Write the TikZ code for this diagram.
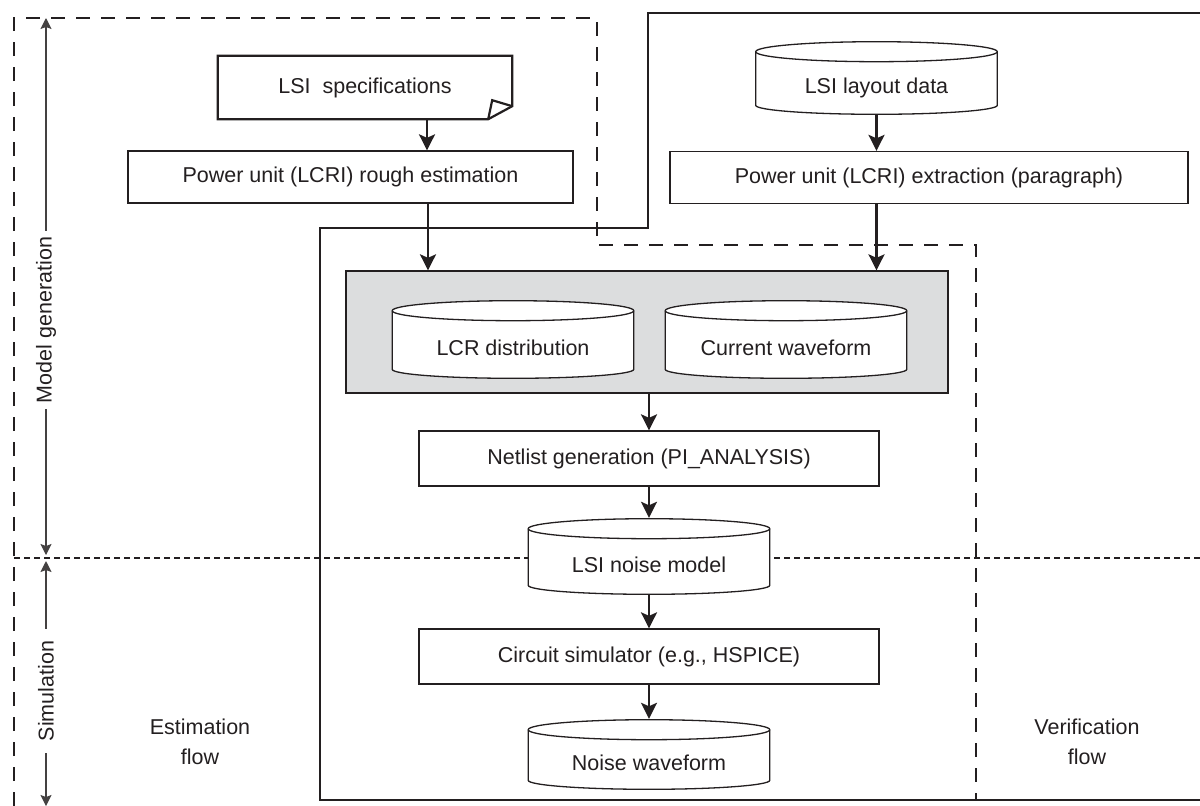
\documentclass[tikz,border=0pt]{standalone}
\usepackage{fontspec}
\setmainfont{Liberation Sans}
\usepackage{tikz}
\usetikzlibrary{arrows.meta}
\definecolor{ink}{HTML}{231F20}
\definecolor{shade}{HTML}{DCDDDE}

\begin{document}
\begin{tikzpicture}[x=1pt,y=-1pt,
        every node/.style={font=\fontsize{21.5}{30}\selectfont, text=ink},
        box/.style={draw=ink, line width=1.3pt, fill=white, minimum height=52pt, inner sep=0pt},
        cyl/.style={minimum width=243pt, inner sep=0pt, text height=31pt, text depth=0pt,
            path picture={
                \draw[draw=ink, fill=white, line width=1.3pt]
                    ([shift={(0.7pt,-10.7pt)}]path picture bounding box.north west)
                    -- ([shift={(0.7pt,9.7pt)}]path picture bounding box.south west)
                    arc[start angle=180, end angle=360, x radius=120.8pt, y radius=9pt]
                    -- ([shift={(-0.7pt,-10.7pt)}]path picture bounding box.north east)
                    arc[start angle=0, end angle=180, x radius=120.8pt, y radius=10pt] -- cycle;
                \draw[draw=ink, line width=1.3pt]
                    ([shift={(0.7pt,-10.7pt)}]path picture bounding box.north west)
                    arc[start angle=180, end angle=360, x radius=120.8pt, y radius=10pt];
            }},
        doc/.style={draw=ink, line width=2.2pt, line join=miter},
        flow/.style={draw=ink, line width=2.4pt, -{Stealth[length=16pt, width=16pt, inset=3.5pt]}},
        axis/.style={draw=ink!85, line width=1.2pt, -{Stealth[length=11pt, width=11pt, inset=2pt]}},
        est/.style={draw=ink, line width=2.8pt, dash pattern=on 14pt off 11pt},
        ver/.style={draw=ink, line width=2.8pt},
        divider/.style={draw=ink, line width=2.3pt, dash pattern=on 6pt off 4pt}]
        \useasboundingbox (0,0) rectangle (1200,806);
        \draw[est] (14,806) -- (14,18) -- (597,18) -- (597,245) -- (976,245) -- (976,800);
        \draw[ver] (1200,13) -- (648,13) -- (648,228) -- (320,228) -- (320,800) -- (1200,800);
        \draw[divider] (14,558) -- (1200,558);
        \coordinate (axtop) at (46,18);
        \coordinate (axmid) at (46,558);
        \coordinate (axbot) at (46,806);
        \node[rotate=90, inner xsep=6pt] (mg) at (46,320) {Model generation};
        \node[rotate=90, inner xsep=12pt] (sm) at (46,691) {Simulation};
        \draw[axis] (mg.east) -- (axtop);
        \draw[axis, shorten >=3pt] (mg.west) -- (axmid);
        \draw[axis, shorten >=3pt] (sm.east) -- (axmid);
        \draw[axis] (sm.west) -- (axbot);
        \node[minimum width=294pt, minimum height=63pt, inner sep=0pt] (spec) at (365,87.5) {LSI\ \ specifications};
        \draw[doc] (spec.north west) -- (spec.north east) -- ([yshift=13pt]spec.south east)
            -- ([xshift=-24pt]spec.south east) -- (spec.south west) -- cycle;
        \draw[doc] ([xshift=-24pt]spec.south east) -- ++(4pt,19pt) -- ([yshift=13pt]spec.south east);
        \node[box, minimum width=445pt] (rough) at (350.5,177) {Power unit (LCRI) rough estimation};
        \node[cyl, minimum height=74pt] (layout) at (876.5,78) {LSI layout data};
        \node[box, minimum width=518pt] (extract) at (929,177.5) {Power unit (LCRI) extraction (paragraph)};
        \node[draw=ink, line width=1.3pt, fill=shade, minimum width=602pt, minimum height=122pt] (store) at (647,332) {};
        \node[cyl, minimum height=79pt] (lcr) at (513,339.5) {LCR distribution};
        \node[cyl, minimum height=79pt] (cur) at (786,339.5) {Current waveform};
        \node[box, minimum width=460pt, minimum height=55pt] (netlist) at (649,458.5) {Netlist generation (PI\_ANALYSIS)};
        \node[cyl, minimum height=77pt] (model) at (649,556.5) {LSI noise model};
        \node[box, minimum width=460pt, minimum height=55pt] (sim) at (649,656.5) {Circuit simulator (e.g., HSPICE)};
        \node[cyl, minimum height=71pt] (wave) at (649,754.5) {Noise waveform};
        \node[align=center] (estlbl) at (200,742) {Estimation\\flow};
        \node[align=center] (verlbl) at (1087,742) {Verification\\flow};
        \draw[flow] ([xshift=62pt]spec.south) -- ([xshift=62pt]spec.south |- rough.north);
        \draw[flow] ([xshift=77.5pt]rough.south) -- ([xshift=77.5pt]rough.south |- store.north);
        \draw[flow] (layout.south) -- (layout.south |- extract.north);
        \draw[flow] (layout.south |- extract.south) -- (layout.south |- store.north);
        \draw[flow] (netlist.north |- store.south) -- (netlist.north);
        \draw[flow] (netlist.south) -- (model.north);
        \draw[flow] (model.south) -- (sim.north);
        \draw[flow] (sim.south) -- (wave.north);
    \end{tikzpicture}
\end{document}
